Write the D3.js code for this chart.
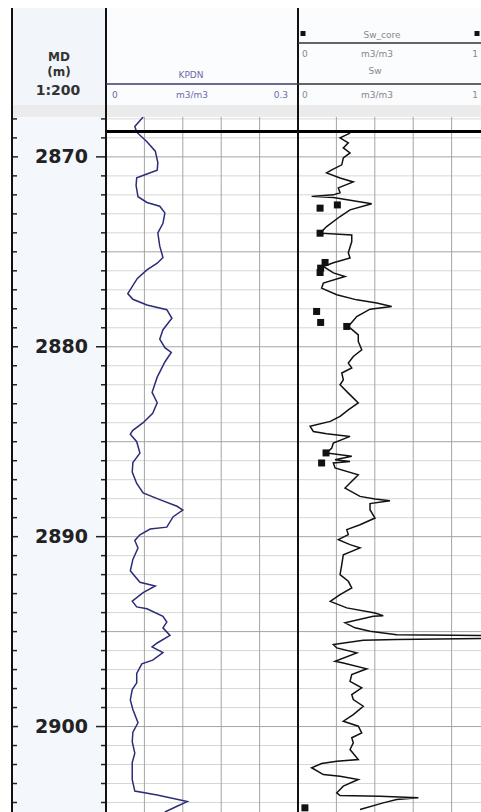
<!DOCTYPE html>
<html>
<head>
<meta charset="utf-8">
<script src="https://cdn.jsdelivr.net/npm/d3@7"></script>
<style>
  html, body { margin: 0; padding: 0; background: #fff; }
  svg { display: block; font-family: "DejaVu Sans", Verdana, sans-serif; }
</style>
</head>
<body>
<div id="viz"></div>
<script>
// Depth window shown (m)
const depthRange = [2867.9, 2904.5];
const depthLabels = [2870, 2880, 2890, 2900];
const formationTop = 2868.66;

// KPDN curve [depth, m3/m3]
const kpdnLog = [
  [2867.9, 0.058], [2868.4, 0.045], [2868.7, 0.048], [2869.2, 0.064], [2869.7, 0.077],
  [2870.3, 0.081], [2870.7, 0.080], [2870.9, 0.064], [2871.1, 0.048], [2871.5, 0.047],
  [2872.1, 0.050], [2872.4, 0.064], [2872.6, 0.084], [2872.95, 0.092], [2873.5, 0.089],
  [2874.0, 0.081], [2874.7, 0.084], [2875.3, 0.089], [2875.6, 0.080], [2875.95, 0.064],
  [2876.4, 0.049], [2877.2, 0.034], [2877.5, 0.042], [2877.8, 0.064], [2878.05, 0.095],
  [2878.5, 0.103], [2879.1, 0.089], [2879.6, 0.084], [2880.05, 0.092], [2880.3, 0.102],
  [2880.8, 0.092], [2881.6, 0.080], [2882.4, 0.072], [2882.95, 0.080], [2883.5, 0.073],
  [2884.0, 0.058], [2884.4, 0.042], [2884.6, 0.038], [2885.0, 0.048], [2885.6, 0.053],
  [2886.1, 0.042], [2886.6, 0.041], [2887.2, 0.048], [2887.7, 0.058], [2888.05, 0.084],
  [2888.4, 0.111], [2888.6, 0.120], [2888.95, 0.105], [2889.5, 0.095], [2889.6, 0.069],
  [2889.9, 0.053], [2890.2, 0.045], [2890.6, 0.050], [2891.2, 0.042], [2891.8, 0.038],
  [2892.4, 0.053], [2892.6, 0.077], [2892.95, 0.058], [2893.4, 0.041], [2893.7, 0.048],
  [2893.8, 0.064], [2894.2, 0.089], [2894.5, 0.095], [2894.8, 0.089], [2895.2, 0.100],
  [2895.6, 0.080], [2895.8, 0.072], [2896.1, 0.089], [2896.5, 0.073], [2896.7, 0.056],
  [2897.2, 0.048], [2897.7, 0.048], [2898.05, 0.041], [2898.6, 0.038], [2899.1, 0.042],
  [2899.8, 0.050], [2900.3, 0.042], [2900.8, 0.041], [2901.4, 0.045], [2901.9, 0.041],
  [2902.8, 0.041], [2903.4, 0.045], [2903.6, 0.080], [2903.95, 0.127], [2904.2, 0.111],
  [2904.5, 0.092]
];

// Sw curve [depth, m3/m3]
const swLog = [
  [2868.75, 0.271], [2869.0, 0.219], [2869.26, 0.262], [2869.53, 0.236], [2869.79, 0.271],
  [2870.05, 0.236], [2870.42, 0.228], [2870.68, 0.176], [2870.84, 0.149], [2871.11, 0.219],
  [2871.32, 0.288], [2871.63, 0.210], [2871.89, 0.219], [2872.0, 0.184], [2872.08, 0.071],
  [2872.14, 0.184], [2872.47, 0.384], [2872.79, 0.271], [2873.14, 0.219], [2873.67, 0.149],
  [2874.02, 0.115], [2874.11, 0.280], [2874.46, 0.280], [2875.05, 0.262], [2875.32, 0.271],
  [2875.58, 0.184], [2875.77, 0.132], [2876.11, 0.184], [2876.3, 0.245], [2876.65, 0.132],
  [2876.91, 0.123], [2877.26, 0.202], [2877.53, 0.306], [2877.7, 0.410], [2877.88, 0.488],
  [2878.02, 0.375], [2878.41, 0.306], [2878.93, 0.262], [2879.37, 0.314], [2879.72, 0.314],
  [2880.16, 0.332], [2880.51, 0.288], [2880.86, 0.262], [2881.12, 0.280], [2881.38, 0.228],
  [2881.74, 0.236], [2882.0, 0.219], [2882.44, 0.262], [2882.96, 0.314], [2883.32, 0.262],
  [2883.67, 0.219], [2883.93, 0.168], [2884.19, 0.063], [2884.46, 0.080], [2884.58, 0.149],
  [2884.72, 0.271], [2885.07, 0.184], [2885.33, 0.176], [2885.59, 0.149], [2885.77, 0.280],
  [2885.95, 0.193], [2886.04, 0.271], [2886.12, 0.184], [2886.38, 0.193], [2886.74, 0.314],
  [2887.17, 0.271], [2887.44, 0.245], [2887.88, 0.323], [2888.02, 0.401], [2888.11, 0.479],
  [2888.26, 0.375], [2888.58, 0.375], [2889.02, 0.401], [2889.37, 0.323], [2889.63, 0.254],
  [2889.89, 0.262], [2890.16, 0.210], [2890.42, 0.271], [2890.59, 0.323], [2890.95, 0.236],
  [2891.47, 0.228], [2892.0, 0.219], [2892.35, 0.262], [2892.7, 0.280], [2893.05, 0.219],
  [2893.41, 0.168], [2893.75, 0.254], [2894.02, 0.401], [2894.16, 0.444], [2894.19, 0.392],
  [2894.54, 0.245], [2894.8, 0.297], [2894.98, 0.375], [2895.16, 0.514], [2895.22, 1.05],
  [2895.36, 1.02], [2895.42, 0.514], [2895.46, 0.340], [2895.68, 0.184], [2895.86, 0.202],
  [2896.12, 0.306], [2896.56, 0.193], [2896.65, 0.236], [2896.96, 0.358], [2897.26, 0.280],
  [2897.62, 0.271], [2897.96, 0.332], [2898.32, 0.280], [2898.58, 0.288], [2898.93, 0.340],
  [2899.37, 0.288], [2899.72, 0.236], [2899.98, 0.314], [2900.33, 0.332], [2900.59, 0.280],
  [2900.86, 0.288], [2901.21, 0.271], [2901.74, 0.314], [2901.83, 0.202], [2901.95, 0.123],
  [2902.17, 0.071], [2902.53, 0.132], [2902.62, 0.219], [2902.79, 0.314], [2903.14, 0.236],
  [2903.49, 0.202], [2903.63, 0.219], [2903.67, 0.427], [2903.75, 0.627], [2903.84, 0.514],
  [2904.02, 0.444], [2904.37, 0.323]
];

// Sw_core samples [depth, m3/m3]
const swCore = [
  [2872.70, 0.115], [2872.53, 0.205], [2874.02, 0.115], [2875.56, 0.141], [2875.86, 0.118],
  [2876.09, 0.115], [2878.14, 0.097], [2878.72, 0.118], [2878.93, 0.254], [2885.59, 0.146],
  [2886.12, 0.123], [2904.28, 0.036]
];

const kpdnDomain = [0, 0.3];
const swDomain = [0, 1];

const width = 481, height = 812;
const depthLeft = 12, depthRight = 106;
const t1Left = 106, t1Right = 298;
const t2Left = 298, t2Right = 490;
const headTop = 8, headBottom = 105, plotTop = 117;

const svg = d3.select('#viz').append('svg')
  .attr('width', width)
  .attr('height', height)
  .attr('viewBox', [0, 0, width, height]);

const y = d3.scaleLinear().domain(depthRange).range([plotTop, height]);
const xK = d3.scaleLinear().domain(kpdnDomain).range([t1Left, t1Right]);
const xS = d3.scaleLinear().domain(swDomain).range([t2Left, t2Right]);

const defs = svg.append('defs');
defs.append('clipPath').attr('id', 'clip1')
  .append('rect').attr('x', t1Left).attr('y', plotTop).attr('width', t1Right - t1Left).attr('height', height - plotTop);
defs.append('clipPath').attr('id', 'clip2')
  .append('rect').attr('x', t2Left).attr('y', plotTop).attr('width', width - t2Left).attr('height', height - plotTop);

// Backgrounds
svg.append('rect').attr('x', depthLeft).attr('y', headTop)
  .attr('width', depthRight - depthLeft).attr('height', headBottom - headTop).attr('fill', '#f2f5fa');
svg.append('rect').attr('x', t1Left).attr('y', headTop)
  .attr('width', width - t1Left).attr('height', headBottom - headTop).attr('fill', '#fbfcfe');
svg.append('rect').attr('x', depthLeft).attr('y', headBottom)
  .attr('width', width - depthLeft).attr('height', plotTop - headBottom).attr('fill', '#ebebeb');
svg.append('rect').attr('x', depthLeft).attr('y', plotTop)
  .attr('width', depthRight - depthLeft).attr('height', height - plotTop).attr('fill', '#f4f7fc');

// Grid in the two tracks
const meters = d3.range(Math.ceil(depthRange[0]), Math.floor(depthRange[1]) + 1);
const grid = svg.append('g');
[[t1Left, t1Right], [t2Left, width]].forEach(([a, b]) => {
  grid.selectAll(null)
    .data(meters)
    .join('line')
    .attr('x1', a).attr('x2', b)
    .attr('y1', d => y(d)).attr('y2', d => y(d))
    .attr('stroke', d => d % 5 === 0 ? '#a4a4a4' : '#d6d6d6')
    .attr('stroke-width', 1);
});
grid.selectAll(null)
  .data(d3.range(1, 5).map(i => kpdnDomain[1] * i / 5))
  .join('line')
  .attr('x1', d => xK(d)).attr('x2', d => xK(d))
  .attr('y1', plotTop).attr('y2', height)
  .attr('stroke', '#a4a4a4');
grid.selectAll(null)
  .data(d3.range(1, 5).map(i => i / 5))
  .join('line')
  .attr('x1', d => xS(d)).attr('x2', d => xS(d))
  .attr('y1', plotTop).attr('y2', height)
  .attr('stroke', '#a4a4a4');

// Depth ticks and labels
const depthAxis = svg.append('g');
depthAxis.selectAll(null)
  .data(meters)
  .join('line')
  .attr('x1', depthLeft).attr('x2', d => depthLabels.includes(d) ? depthLeft + 6 : depthLeft + 5)
  .attr('y1', d => y(d)).attr('y2', d => y(d))
  .attr('stroke', '#222').attr('stroke-width', 1.5);
depthAxis.selectAll(null)
  .data(meters)
  .join('line')
  .attr('x1', d => depthLabels.includes(d) ? depthRight - 10 : depthRight - 5).attr('x2', depthRight)
  .attr('y1', d => y(d)).attr('y2', d => y(d))
  .attr('stroke', '#222').attr('stroke-width', 1.5);
depthAxis.selectAll(null)
  .data(depthLabels)
  .join('text')
  .attr('x', 88)
  .attr('y', d => y(d))
  .attr('dy', '0.34em')
  .attr('text-anchor', 'end')
  .attr('font-size', '19px')
  .attr('font-weight', 'bold')
  .attr('fill', '#222')
  .text(d => d);

// Curves
const line = (xs) => d3.line().x(d => xs(d[1])).y(d => y(d[0]));

svg.append('path')
  .datum(kpdnLog)
  .attr('clip-path', 'url(#clip1)')
  .attr('d', line(xK))
  .attr('fill', 'none')
  .attr('stroke', '#2c2c78')
  .attr('stroke-width', 1.5);

svg.append('path')
  .datum(swLog)
  .attr('clip-path', 'url(#clip2)')
  .attr('d', line(xS))
  .attr('fill', 'none')
  .attr('stroke', '#111')
  .attr('stroke-width', 1.5);

svg.append('g')
  .attr('clip-path', 'url(#clip2)')
  .selectAll('rect')
  .data(swCore)
  .join('rect')
  .attr('x', d => xS(d[1]) - 3.5)
  .attr('y', d => y(d[0]) - 3.5)
  .attr('width', 7).attr('height', 7)
  .attr('fill', '#111');

// Formation top marker
svg.append('line')
  .attr('x1', t1Left).attr('x2', width)
  .attr('y1', y(formationTop)).attr('y2', y(formationTop))
  .attr('stroke', '#000').attr('stroke-width', 3);

// Track borders
[depthLeft, t1Left, t2Left].forEach(x => {
  svg.append('line')
    .attr('x1', x).attr('x2', x)
    .attr('y1', headTop).attr('y2', height)
    .attr('stroke', '#111').attr('stroke-width', 2);
});

// Header: depth column
const hd = svg.append('g')
  .attr('font-weight', 'bold')
  .attr('font-size', '12px')
  .attr('fill', '#333')
  .attr('text-anchor', 'middle');
hd.append('text').attr('x', 59).attr('y', 61).text('MD');
hd.append('text').attr('x', 59).attr('y', 76).text('(m)');
hd.append('text').attr('x', 58).attr('y', 95).attr('font-size', '14px').text('1:200');

// Header: KPDN
const hk = svg.append('g').attr('font-size', '9px').attr('fill', '#6b6ba8');
hk.append('text').attr('x', 191).attr('y', 78).attr('text-anchor', 'middle').text('KPDN');
svg.append('line').attr('x1', t1Left).attr('x2', t1Right).attr('y1', 84).attr('y2', 84)
  .attr('stroke', '#3a3a70').attr('stroke-width', 1.5);
hk.append('text').attr('x', 112).attr('y', 98).text(kpdnDomain[0]);
hk.append('text').attr('x', 192).attr('y', 98).attr('text-anchor', 'middle').text('m3/m3');
hk.append('text').attr('x', 288).attr('y', 98).attr('text-anchor', 'end').text(kpdnDomain[1]);

// Header: Sw and Sw_core
const hs = svg.append('g').attr('font-size', '9px').attr('fill', '#888');
hs.append('text').attr('x', 382).attr('y', 38).attr('text-anchor', 'middle').text('Sw_core');
hs.selectAll('rect.mk')
  .data([303, 477])
  .join('rect')
  .attr('x', d => d - 2.5).attr('y', 31).attr('width', 5).attr('height', 5)
  .attr('fill', '#111');
svg.append('line').attr('x1', t2Left).attr('x2', width).attr('y1', 43).attr('y2', 43)
  .attr('stroke', '#333').attr('stroke-width', 1.5);
hs.append('text').attr('x', 302).attr('y', 57).text(swDomain[0]);
hs.append('text').attr('x', 377).attr('y', 57).attr('text-anchor', 'middle').text('m3/m3');
hs.append('text').attr('x', 478).attr('y', 57).attr('text-anchor', 'end').text(swDomain[1]);
hs.append('text').attr('x', 375).attr('y', 74).attr('text-anchor', 'middle').text('Sw');
svg.append('line').attr('x1', t2Left).attr('x2', width).attr('y1', 84).attr('y2', 84)
  .attr('stroke', '#333').attr('stroke-width', 1.5);
hs.append('text').attr('x', 302).attr('y', 98).text(swDomain[0]);
hs.append('text').attr('x', 377).attr('y', 98).attr('text-anchor', 'middle').text('m3/m3');
hs.append('text').attr('x', 478).attr('y', 98).attr('text-anchor', 'end').text(swDomain[1]);
</script>
</body>
</html>
